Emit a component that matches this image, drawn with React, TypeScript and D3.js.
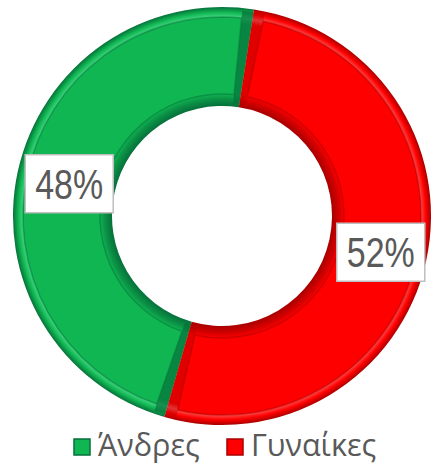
import { useEffect, useRef } from 'react'
import * as d3 from 'd3'

const categories = ['Άνδρες', 'Γυναίκες']
const values = [48, 52]
const labels = ['48%', '52%']

const W = 434
const H = 467
const cx = 222
const cy = 216
const outerR = 209
const innerR = 110
const startDeg = 196

const base = ['#10b652', '#ff0000']
const dark = ['#06703a', '#a80000']
const light = ['#45d884', '#ff5050']

export default function App() {
  const svgRef = useRef<SVGSVGElement>(null)

  useEffect(() => {
    if (!svgRef.current) return
    const svg = d3.select(svgRef.current)
    svg.selectAll('*').remove()

    const defs = svg.append('defs')
    const k = innerR / outerR
    base.forEach((c, i) => {
      const grad = defs.append('radialGradient')
        .attr('id', `ring${i}`)
        .attr('gradientUnits', 'userSpaceOnUse')
        .attr('cx', 0).attr('cy', 0).attr('r', outerR)
      const stops: [number, string][] = [
        [0, dark[i]],
        [k, dark[i]],
        [k + 0.035, d3.interpolateRgb(dark[i], c)(0.5)],
        [k + 0.06, c],
        [0.925, c],
        [0.95, light[i]],
        [0.975, c],
        [1, dark[i]],
      ]
      stops.forEach(([o, col]) => grad.append('stop').attr('offset', o).attr('stop-color', col))
    })

    const g = svg.append('g').attr('transform', `translate(${cx},${cy})`)

    const start = (startDeg * Math.PI) / 180
    const pie = d3.pie<number>().sort(null).startAngle(start).endAngle(start + 2 * Math.PI)
    const arcs = pie(values)

    const arc = d3.arc<d3.PieArcDatum<number>>().innerRadius(innerR).outerRadius(outerR)
    const insetArc = d3.arc<d3.PieArcDatum<number>>()
      .innerRadius(innerR + 12).outerRadius(outerR - 10)
      .startAngle(d => d.startAngle + 0.055)
      .endAngle(d => d.endAngle - 0.055)

    // slices
    g.selectAll('path.slice').data(arcs).join('path')
      .attr('class', 'slice')
      .attr('d', arc)
      .attr('fill', (_, i) => `url(#ring${i})`)

    // bevel at the slice ends
    const endBand = d3.arc<{ a0: number; a1: number }>()
      .innerRadius(innerR + 3).outerRadius(outerR - 3)
      .startAngle(d => d.a0).endAngle(d => d.a1)
    arcs.forEach((d, i) => {
      const w = 0.055
      const op = i === 0 ? 0.7 : 0.35
      g.append('path').attr('d', endBand({ a0: d.startAngle, a1: d.startAngle + w }) as string)
        .attr('fill', dark[i]).attr('opacity', op)
      g.append('path').attr('d', endBand({ a0: d.endAngle - w, a1: d.endAngle }) as string)
        .attr('fill', dark[i]).attr('opacity', op)
    })

    // inner face edge
    g.selectAll('path.inset').data(arcs).join('path')
      .attr('class', 'inset')
      .attr('d', insetArc)
      .attr('fill', (_, i) => base[i])
      .attr('stroke', (_, i) => dark[i])
      .attr('stroke-opacity', 0.5)
      .attr('stroke-width', 1.5)

    // data labels
    const mid = d3.arc<d3.PieArcDatum<number>>().innerRadius(innerR).outerRadius(outerR)
    arcs.forEach((d, i) => {
      const [x, y] = mid.centroid(d)
      const lg = g.append('g').attr('transform', `translate(${x + 3},${y + 2})`)
      lg.append('rect')
        .attr('x', -44).attr('y', -29).attr('width', 88).attr('height', 58)
        .attr('fill', '#ffffff').attr('stroke', '#bfbfbf').attr('stroke-width', 1.5)
      lg.append('text')
        .attr('text-anchor', 'middle').attr('y', 15)
        .attr('font-family', '"Liberation Sans", sans-serif')
        .attr('font-size', 42).attr('fill', '#595959')
        .attr('textLength', 68).attr('lengthAdjust', 'spacingAndGlyphs')
        .text(labels[i])
    })

    // legend
    const legendX = [74, 227]
    const leg = svg.append('g').attr('transform', 'translate(0,439)')
    categories.forEach((name, i) => {
      leg.append('rect').attr('x', legendX[i]).attr('y', 0).attr('width', 16).attr('height', 16)
        .attr('fill', base[i]).attr('stroke', dark[i]).attr('stroke-width', 1.5)
      leg.append('text').attr('x', legendX[i] + 24).attr('y', 17)
        .attr('font-family', '"Open Sans", sans-serif')
        .attr('font-size', 30.5).attr('fill', '#595959')
        .text(name)
    })
  }, [])

  return (
    <svg
      ref={svgRef}
      width={W}
      height={H}
      style={{ position: 'absolute', left: 0, top: 0, background: '#fff' }}
    />
  )
}
